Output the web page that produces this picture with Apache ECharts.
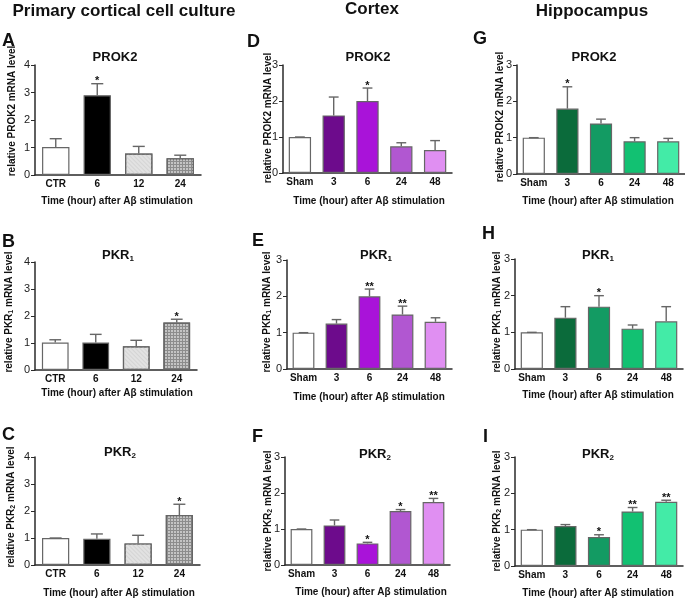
<!DOCTYPE html>
<html><head><meta charset="utf-8">
<script src="https://cdn.jsdelivr.net/npm/echarts@6/dist/echarts.min.js"></script>
<style>html,body{margin:0;padding:0;background:#fff}#c{width:685px;height:600px}</style>
</head><body><div id="c"></div>
<script>
// ---------- data ----------
const catsCulture = ['CTR', '6', '12', '24'];
const catsTissue = ['Sham', '3', '6', '24', '48'];
const yMaxCulture = 4;
const yMaxTissue = 3;

// Primary cortical cell culture
const cultureProk2Mean = [1.02, 2.90, 0.78, 0.61];
const cultureProk2Err  = [0.30, 0.42, 0.26, 0.11];
const cultureProk2Sig  = ['', '*', '', ''];
const culturePkr1Mean  = [1.02, 1.02, 0.88, 1.76];
const culturePkr1Err   = [0.10, 0.30, 0.22, 0.12];
const culturePkr1Sig   = ['', '', '', '*'];
const culturePkr2Mean  = [1.00, 0.97, 0.80, 1.85];
const culturePkr2Err   = [0.00, 0.18, 0.30, 0.40];
const culturePkr2Sig   = ['', '', '', '*'];

// Cortex
const cortexProk2Mean = [1.00, 1.60, 2.00, 0.74, 0.64];
const cortexProk2Err  = [0.00, 0.51, 0.36, 0.10, 0.26];
const cortexProk2Sig  = ['', '', '*', '', ''];
const cortexPkr1Mean  = [1.00, 1.25, 2.00, 1.50, 1.30];
const cortexPkr1Err   = [0.00, 0.11, 0.20, 0.23, 0.11];
const cortexPkr1Sig   = ['', '', '**', '**', ''];
const cortexPkr2Mean  = [1.00, 1.10, 0.60, 1.50, 1.75];
const cortexPkr2Err   = [0.00, 0.15, 0.03, 0.04, 0.10];
const cortexPkr2Sig   = ['', '', '*', '*', '**'];

// Hippocampus
const hippoProk2Mean = [1.00, 1.80, 1.39, 0.90, 0.90];
const hippoProk2Err  = [0.00, 0.60, 0.12, 0.10, 0.08];
const hippoProk2Sig  = ['', '*', '', '', ''];
const hippoPkr1Mean  = [1.00, 1.40, 1.70, 1.10, 1.30];
const hippoPkr1Err   = [0.00, 0.30, 0.30, 0.10, 0.40];
const hippoPkr1Sig   = ['', '', '*', '', ''];
const hippoPkr2Mean  = [1.00, 1.10, 0.80, 1.50, 1.77];
const hippoPkr2Err   = [0.00, 0.04, 0.06, 0.11, 0.04];
const hippoPkr2Sig   = ['', '', '*', '**', '**'];

// ---------- styles ----------
const FONT = 'Liberation Sans, Arial, sans-serif';
const grayColors = ['#ffffff', '#000000', '#e2e2e2', '#8c8c8c'];
const grayDecals = [null, null,
  {symbol: 'rect', symbolSize: 1, color: '#d4d4d4', dashArrayX: [1, 0], dashArrayY: [1, 2], rotation: Math.PI / 4},
  {symbol: 'rect', symbolSize: 1, color: '#c4c4c4', dashArrayX: [2, 1], dashArrayY: [2, 1], rotation: 0}];
const purpleColors = ['#ffffff', '#6d0b8c', '#a913d9', '#b157d1', '#e08ff2'];
const greenColors = ['#ffffff', '#0b6b3b', '#139b63', '#12c172', '#43eba7'];
const X_TITLE = 'Time (hour) after A\u03b2 stimulation';

const panels = [
  {letter: 'A', cats: catsCulture, mean: cultureProk2Mean, err: cultureProk2Err, sig: cultureProk2Sig, ymax: yMaxCulture, colors: grayColors, decals: grayDecals, gene: ['PROK2', ''],
   grid: {left: 35, top: 65, width: 166, height: 110}, title: [115, 57.5], let: [2, 41], yname: [12, 111], xname: [117, 201]},
  {letter: 'D', cats: catsTissue, mean: cortexProk2Mean, err: cortexProk2Err, sig: cortexProk2Sig, ymax: yMaxTissue, colors: purpleColors, gene: ['PROK2', ''],
   grid: {left: 283, top: 65, width: 169, height: 108}, title: [368, 57.5], let: [247, 42], yname: [268, 118], xname: [369, 201]},
  {letter: 'G', cats: catsTissue, mean: hippoProk2Mean, err: hippoProk2Err, sig: hippoProk2Sig, ymax: yMaxTissue, colors: greenColors, gene: ['PROK2', ''],
   grid: {left: 517, top: 65, width: 168, height: 109}, title: [594, 57], let: [473, 39], yname: [500, 117], xname: [598, 201]},
  {letter: 'B', cats: catsCulture, mean: culturePkr1Mean, err: culturePkr1Err, sig: culturePkr1Sig, ymax: yMaxCulture, colors: grayColors, decals: grayDecals, gene: ['PKR', '1'],
   grid: {left: 35, top: 262, width: 162, height: 108}, title: [118, 255], let: [2, 242], yname: [9, 312], xname: [117, 393]},
  {letter: 'E', cats: catsTissue, mean: cortexPkr1Mean, err: cortexPkr1Err, sig: cortexPkr1Sig, ymax: yMaxTissue, colors: purpleColors, gene: ['PKR', '1'],
   grid: {left: 287, top: 260, width: 165, height: 109}, title: [376, 255], let: [252, 241], yname: [267, 312], xname: [369, 397]},
  {letter: 'H', cats: catsTissue, mean: hippoPkr1Mean, err: hippoPkr1Err, sig: hippoPkr1Sig, ymax: yMaxTissue, colors: greenColors, gene: ['PKR', '1'],
   grid: {left: 515, top: 259, width: 168, height: 110}, title: [598, 255], let: [482, 234], yname: [497, 312], xname: [598, 395]},
  {letter: 'C', cats: catsCulture, mean: culturePkr2Mean, err: culturePkr2Err, sig: culturePkr2Sig, ymax: yMaxCulture, colors: grayColors, decals: grayDecals, gene: ['PKR', '2'],
   grid: {left: 35, top: 457, width: 165, height: 108}, title: [120, 452], let: [2, 435], yname: [11, 507], xname: [119, 593]},
  {letter: 'F', cats: catsTissue, mean: cortexPkr2Mean, err: cortexPkr2Err, sig: cortexPkr2Sig, ymax: yMaxTissue, colors: purpleColors, gene: ['PKR', '2'],
   grid: {left: 285, top: 457, width: 165, height: 108}, title: [375, 454], let: [252, 437], yname: [268, 511], xname: [371, 592]},
  {letter: 'I', cats: catsTissue, mean: hippoPkr2Mean, err: hippoPkr2Err, sig: hippoPkr2Sig, ymax: yMaxTissue, colors: greenColors, gene: ['PKR', '2'],
   grid: {left: 515, top: 457, width: 168, height: 109}, title: [598, 454], let: [483, 437], yname: [497, 511], xname: [598, 593]}
];

const grids = [], xAxes = [], yAxes = [], series = [], graphics = [];
const axisColor = '#2a2a2a';

// column headers
[['Primary cortical cell culture', 124, 11], ['Cortex', 372, 9], ['Hippocampus', 592, 11]].forEach(h => {
  graphics.push({type: 'text', x: h[1], y: h[2], silent: true,
    style: {text: h[0], align: 'center', verticalAlign: 'middle', fill: '#111', font: 'bold 17px ' + FONT}});
});

panels.forEach((p, k) => {
  grids.push(Object.assign({containLabel: false}, p.grid));
  xAxes.push({gridIndex: k, type: 'category', data: p.cats,
    axisTick: {show: false},
    axisLine: {lineStyle: {color: axisColor, width: 1.5}},
    axisLabel: {interval: 0, margin: 4, fontSize: 10, fontWeight: 'bold', color: '#111', fontFamily: FONT}});
  yAxes.push({gridIndex: k, type: 'value', min: 0, max: p.ymax, interval: 1,
    splitLine: {show: false},
    axisLine: {show: true, lineStyle: {color: axisColor, width: 1.5}},
    axisTick: {show: true, length: 4, lineStyle: {color: axisColor, width: 1}},
    axisLabel: {margin: 5, fontSize: 11, color: '#222', fontFamily: FONT}});
  series.push({type: 'bar', xAxisIndex: k, yAxisIndex: k, barWidth: '66%', silent: true,
    data: p.mean.map((v, i) => {
      const it = {color: p.colors[i], borderColor: '#666', borderWidth: 1.2};
      if (p.decals && p.decals[i]) it.decal = p.decals[i];
      return {value: v, itemStyle: it};
    })});
  const sig = p.sig;
  series.push({type: 'custom', xAxisIndex: k, yAxisIndex: k, silent: true, z: 5,
    data: p.mean.map((v, i) => [i, v, p.err[i]]),
    renderItem: function (params, api) {
      const i = api.value(0), m = api.value(1), e = api.value(2);
      const b = api.coord([i, m]), t = api.coord([i, m + e]);
      const band = api.size([1, 0])[0];
      const hw = band * 0.66 * 0.22;
      const ls = {stroke: '#666', lineWidth: 1.4};
      const ch = [
        {type: 'line', shape: {x1: b[0], y1: b[1], x2: t[0], y2: t[1]}, style: ls},
        {type: 'line', shape: {x1: t[0] - hw, y1: t[1], x2: t[0] + hw, y2: t[1]}, style: ls}
      ];
      const s = sig[params.dataIndex];
      if (s) ch.push({type: 'text', style: {text: s, x: t[0], y: t[1] + 3, align: 'center', verticalAlign: 'bottom', fill: '#111', font: 'bold 11px ' + FONT}});
      return {type: 'group', children: ch};
    }});

  const sub = p.gene[1];
  graphics.push({type: 'text', x: p.let[0], y: p.let[1], silent: true,
    style: {text: p.letter, align: 'left', verticalAlign: 'middle', fill: '#111', font: 'bold 18px ' + FONT}});
  graphics.push({type: 'text', x: p.title[0], y: p.title[1], silent: true,
    style: {text: sub ? '{b|' + p.gene[0] + '}{s|' + sub + '}' : '{b|' + p.gene[0] + '}',
      align: 'center', verticalAlign: 'middle', fill: '#111',
      rich: {b: {font: 'bold 13px ' + FONT, lineHeight: 16, fill: '#111'},
             s: {font: 'bold 8px ' + FONT, lineHeight: 6, verticalAlign: 'bottom', fill: '#111'}}}});
  graphics.push({type: 'text', x: p.yname[0], y: p.yname[1], rotation: Math.PI / 2, silent: true,
    style: {text: sub ? '{b|relative ' + p.gene[0] + '}{s|' + sub + '}{b| mRNA level}' : '{b|relative ' + p.gene[0] + ' mRNA level}',
      align: 'center', verticalAlign: 'middle', fill: '#111',
      rich: {b: {font: 'bold 10px ' + FONT, lineHeight: 12, fill: '#111'},
             s: {font: 'bold 7px ' + FONT, lineHeight: 5, verticalAlign: 'bottom', fill: '#111'}}}});
  graphics.push({type: 'text', x: p.xname[0], y: p.xname[1], silent: true,
    style: {text: X_TITLE, align: 'center', verticalAlign: 'middle', fill: '#111', font: 'bold 10px ' + FONT}});
});

const chart = echarts.init(document.getElementById('c'), null, {renderer: 'canvas'});
chart.setOption({
  backgroundColor: '#fff',
  animation: false,
  grid: grids, xAxis: xAxes, yAxis: yAxes, series: series,
  graphic: {elements: graphics}
});
</script></body></html>
